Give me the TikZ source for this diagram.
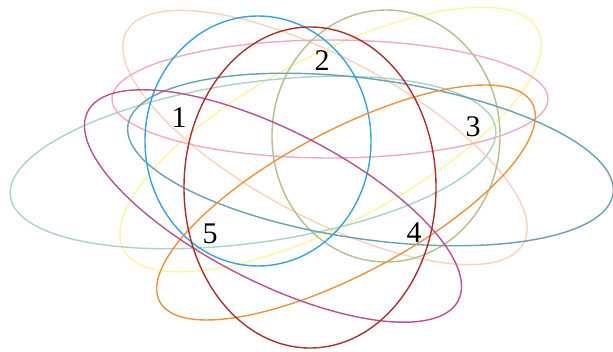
\documentclass[tikz,border=0pt]{standalone}
\usepackage{fontspec}
\setmainfont{Liberation Serif}
\definecolor{cblue}{RGB}{52,163,222}
\definecolor{cred}{RGB}{168,48,48}
\definecolor{colive}{RGB}{180,192,140}
\definecolor{cpink}{RGB}{240,170,200}
\definecolor{csteel}{RGB}{105,160,182}
\definecolor{csea}{RGB}{172,210,200}
\definecolor{cpurple}{RGB}{185,80,150}
\definecolor{corange}{RGB}{236,145,60}
\definecolor{cyellow}{RGB}{255,244,160}
\definecolor{cpeach}{RGB}{248,212,192}
\begin{document}
\begin{tikzpicture}[x=1pt,y=1pt,
  ring/.style={line width=1.4pt},
  num/.style={font=\fontsize{30}{30}\selectfont, inner sep=0pt}]
\useasboundingbox (0,0) rectangle (613,352);
\fill[white] (0,0) rectangle (613,352);
% ellipses
\draw[ring,cpeach,rotate around={-28:(325,214.5)}] (325,214.5) ellipse [x radius=225, y radius=80];
\draw[ring,cyellow,rotate around={28:(330.5,212.5)}] (330.5,212.5) ellipse [x radius=234.5, y radius=83];
\draw[ring,csea,rotate around={8:(253,189.5)}] (253,189.5) ellipse [x radius=245, y radius=80];
\draw[ring,cpink] (330,253) ellipse [x radius=218, y radius=59];
\draw[ring,colive] (386,216) ellipse [x radius=114, y radius=126];
\draw[ring,csteel,rotate around={-8:(370.5,192.5)}] (370.5,192.5) ellipse [x radius=245, y radius=80];
\draw[ring,cblue] (258,211) ellipse [x radius=113, y radius=125];
\draw[ring,corange,rotate around={28:(346,149.5)}] (346,149.5) ellipse [x radius=211, y radius=71.5];
\draw[ring,cpurple,rotate around={-27:(273,146)}] (273,146) ellipse [x radius=208, y radius=76];
\draw[ring,cred] (310,164.5) ellipse [x radius=126, y radius=160.5];
% labels
\node[num] (l1) at (179,234) {1};
\node[num] (l2) at (322,291) {2};
\node[num] (l3) at (473,225) {3};
\node[num] (l4) at (414,119) {4};
\node[num] (l5) at (210,118) {5};
\end{tikzpicture}
\end{document}
